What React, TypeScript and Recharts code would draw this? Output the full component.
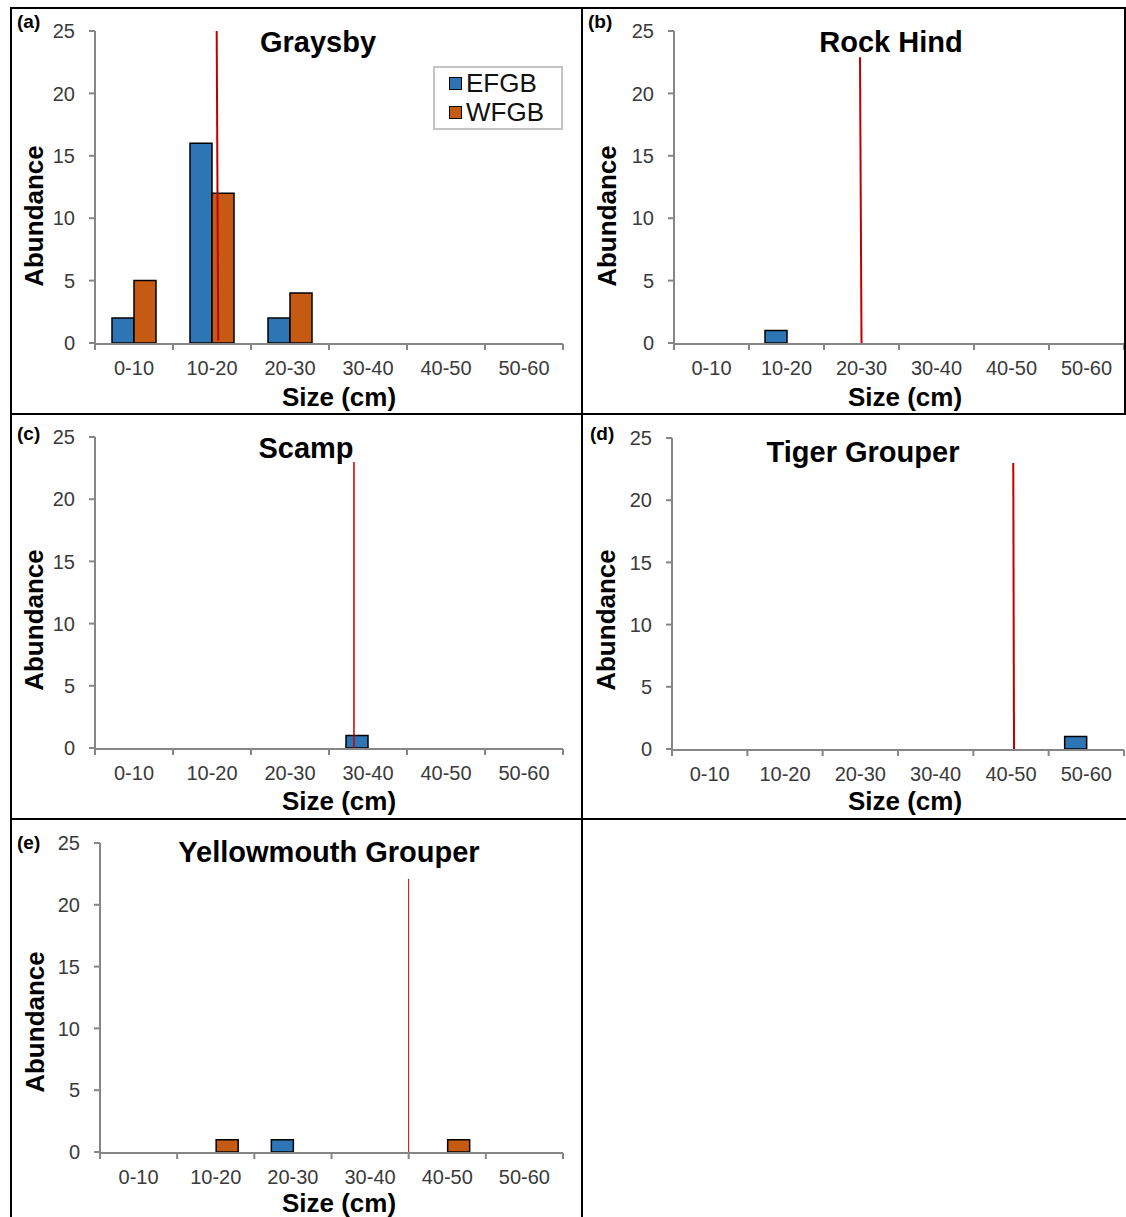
import { ComposedChart, Bar, Line, XAxis, YAxis, Legend } from "recharts"

const sizeClasses = ["0-10", "10-20", "20-30", "30-40", "40-50", "50-60"]
const sizeEdges = [0, 10, 20, 30, 40, 50, 60]
const abundanceTicks = [0, 5, 10, 15, 20, 25]
const siteNames = ["EFGB", "WFGB"]

const graysbyEFGB = [2, 16, 2, 0, 0, 0]
const graysbyWFGB = [5, 12, 4, 0, 0, 0]
const rockHindEFGB = [0, 1, 0, 0, 0, 0]
const rockHindWFGB = [0, 0, 0, 0, 0, 0]
const scampEFGB = [0, 0, 0, 1, 0, 0]
const scampWFGB = [0, 0, 0, 0, 0, 0]
const tigerEFGB = [0, 0, 0, 0, 0, 1]
const tigerWFGB = [0, 0, 0, 0, 0, 0]
const yellowmouthEFGB = [0, 0, 1, 0, 0, 0]
const yellowmouthWFGB = [0, 1, 0, 0, 1, 0]

// mean size line (size cm, abundance), bottom -> top
const graysbyMean = [{ x: 15.8, y: 0.2 }, { x: 15.6, y: 25 }]
const rockHindMean = [{ x: 25.0, y: 0 }, { x: 24.8, y: 22.9 }]
const scampMean = [{ x: 33.2, y: 0 }, { x: 33.2, y: 23 }]
const tigerMean = [{ x: 45.4, y: 0 }, { x: 45.3, y: 23 }]
const yellowmouthMean = [{ x: 40, y: 0 }, { x: 40, y: 22.1 }]

const BLUE = "#2E75B6"
const ORANGE = "#C65A12"
const RED = "#C00000"
const AXIS = "#868686"
const TICK = "#3a3a3a"
const FONT = '"Liberation Sans", Arial, sans-serif'

const panels = [
  {
    letter: "(a)", title: "Graysby", efgb: graysbyEFGB, wfgb: graysbyWFGB, mean: graysbyMean, meanWidth: 2,
    box: [11, 8, 571, 406], margin: { top: 23, right: 19, left: 34, bottom: 69 },
    letterPos: [17, 21], titlePos: [318, 42], yLabelPos: [34, 216], xLabelPos: [339, 397], legend: true,
  },
  {
    letter: "(b)", title: "Rock Hind", efgb: rockHindEFGB, wfgb: rockHindWFGB, mean: rockHindMean, meanWidth: 2,
    box: [582, 8, 544, 406], margin: { top: 23, right: 2, left: 42, bottom: 69 },
    letterPos: [588, 21], titlePos: [891, 42], yLabelPos: [607, 216], xLabelPos: [905, 397], legend: false,
  },
  {
    letter: "(c)", title: "Scamp", efgb: scampEFGB, wfgb: scampWFGB, mean: scampMean, meanWidth: 1.5,
    box: [11, 414, 571, 405], margin: { top: 23, right: 19, left: 34, bottom: 69 },
    letterPos: [17, 433], titlePos: [306, 448], yLabelPos: [34, 620], xLabelPos: [339, 801], legend: false,
  },
  {
    letter: "(d)", title: "Tiger Grouper", efgb: tigerEFGB, wfgb: tigerWFGB, mean: tigerMean, meanWidth: 2,
    box: [582, 414, 544, 405], margin: { top: 24, right: 2, left: 40, bottom: 68 },
    letterPos: [590, 433], titlePos: [863, 452], yLabelPos: [606, 620], xLabelPos: [905, 801], legend: false,
  },
  {
    letter: "(e)", title: "Yellowmouth Grouper", efgb: yellowmouthEFGB, wfgb: yellowmouthWFGB, mean: yellowmouthMean, meanWidth: 1,
    box: [11, 819, 571, 398], margin: { top: 24, right: 19, left: 39, bottom: 63 },
    letterPos: [17, 842], titlePos: [329, 852], yLabelPos: [35, 1022], xLabelPos: [339, 1203], legend: false,
  },
]

function LegendBox({ payload }: any) {
  const items = (payload || []).filter((e: any) => siteNames.includes(e.value))
  return (
    <div
      style={{
        border: "2px solid #c4c4c4", boxSizing: "border-box", width: 130, padding: "1px 0 1px 14px",
        background: "#fff", fontFamily: FONT,
      }}
    >
      {items.map((e: any) => (
        <div key={e.value} style={{ display: "flex", alignItems: "center", height: 29, fontSize: 26, color: "#111" }}>
          <span style={{ width: 11, height: 11, background: e.color, border: "1.5px solid #000", marginRight: 4 }} />
          {e.value}
        </div>
      ))}
    </div>
  )
}

function Txt({ x, y, size, bold, rotate, left, children }: any) {
  return (
    <div
      style={{
        position: "absolute", left: x, top: y, fontFamily: FONT, fontSize: size, lineHeight: 1,
        fontWeight: bold ? "bold" : "normal", color: "#000", whiteSpace: "nowrap",
        transform: left ? "translate(0,-50%)" : `translate(-50%,-50%)${rotate ? " rotate(-90deg)" : ""}`,
      }}
    >
      {children}
    </div>
  )
}

const noTick = () => <g />

function Panel({ p }: any) {
  const [bx, by, bw, bh] = p.box
  const data = sizeClasses.map((size, i) => ({ size, EFGB: p.efgb[i], WFGB: p.wfgb[i] }))
  const axisStyle = { stroke: AXIS, strokeWidth: 2 }
  return (
    <div style={{ position: "absolute", left: bx, top: by, width: bw, height: bh }}>
      <ComposedChart width={bw} height={bh} data={data} margin={p.margin} barGap={0} barSize={22}>
        <XAxis
          xAxisId="num" dataKey="x" type="number" domain={[0, 60]} ticks={sizeEdges} allowDataOverflow height={1}
          axisLine={axisStyle} tickLine={axisStyle} tickSize={6} tick={noTick}
        />
        <XAxis
          xAxisId="cat" dataKey="size" axisLine={false} tickLine={false} tickSize={6} tickMargin={12} height={1}
          interval={0} tick={{ fontSize: 20, fill: TICK, fontFamily: FONT }}
        />
        <YAxis
          domain={[0, 25]} ticks={abundanceTicks} width={50} interval={0}
          axisLine={axisStyle} tickLine={axisStyle} tickSize={6} tickMargin={14}
          tick={{ fontSize: 20, fill: TICK, fontFamily: FONT }}
        />
        <Bar xAxisId="cat" dataKey="EFGB" name={siteNames[0]} fill={BLUE} stroke="#000" strokeWidth={1.5} isAnimationActive={false} />
        <Bar xAxisId="cat" dataKey="WFGB" name={siteNames[1]} fill={ORANGE} stroke="#000" strokeWidth={1.5} isAnimationActive={false} />
        <Line
          xAxisId="num" data={p.mean} dataKey="y" name="mean" stroke={RED} strokeWidth={p.meanWidth}
          dot={false} activeDot={false} legendType="none" isAnimationActive={false}
        />
        {p.legend && (
          <Legend
            layout="vertical" align="center" verticalAlign="middle"
            wrapperStyle={{ left: 422, top: 58, width: "auto" }}
            content={<LegendBox />}
          />
        )}
      </ComposedChart>
      <Txt x={p.letterPos[0] - bx} y={p.letterPos[1] - by} size={19} bold left>{p.letter}</Txt>
      <Txt x={p.titlePos[0] - bx} y={p.titlePos[1] - by} size={29} bold>{p.title}</Txt>
      <Txt x={p.yLabelPos[0] - bx} y={p.yLabelPos[1] - by} size={26} bold rotate>Abundance</Txt>
      <Txt x={p.xLabelPos[0] - bx} y={p.xLabelPos[1] - by} size={26} bold>Size (cm)</Txt>
    </div>
  )
}

const line = (left: number, top: number, width: number, height: number) => (
  <div style={{ position: "absolute", left, top, width, height, background: "#000" }} />
)

export default function App() {
  return (
    <div style={{ position: "absolute", left: 0, top: 0, width: 1126, height: 1217, background: "#fff", overflow: "hidden" }}>
      {panels.map((p) => (
        <Panel key={p.letter} p={p} />
      ))}
      {line(10, 7, 1116, 2)}
      {line(10, 413, 1116, 2)}
      {line(10, 818, 1116, 2)}
      {line(10, 7, 2, 1210)}
      {line(581, 7, 2, 1210)}
      {line(1124, 7, 2, 408)}
    </div>
  )
}
